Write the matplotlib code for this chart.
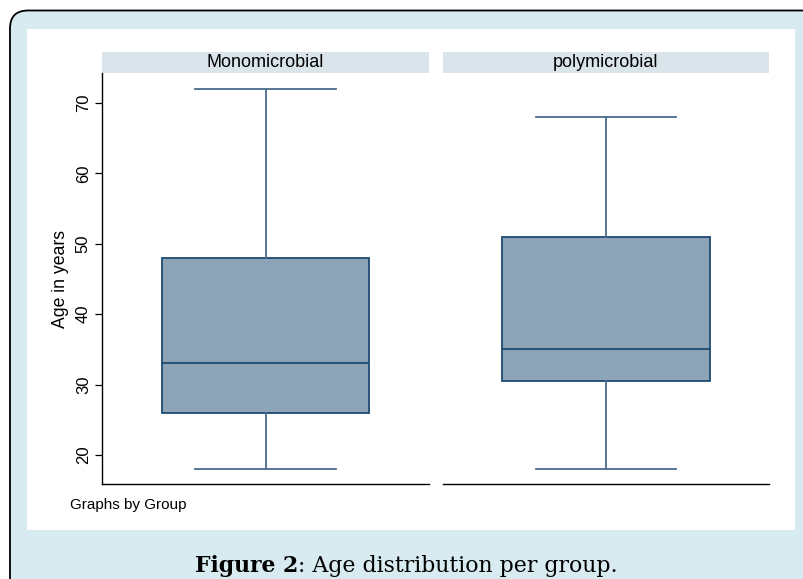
import matplotlib
matplotlib.use("Agg")
import matplotlib.pyplot as plt
from matplotlib.patches import FancyBboxPatch, Rectangle
from matplotlib.transforms import IdentityTransform

# box summary per group
groups = ["Monomicrobial", "polymicrobial"]
whislo = [18, 18]
q1 = [26, 30.5]
med = [33, 35]
q3 = [48, 51]
whishi = [72, 68]
yticks = [20, 30, 40, 50, 60, 70]

W, H = 804, 579
plt.rcParams["font.family"] = ["Liberation Sans", "DejaVu Sans"]

fig = plt.figure(figsize=(W / 100, H / 100), dpi=100)

# outer light-blue card with rounded corner and black border
card = FancyBboxPatch((10, -40), W + 40, H - 10 + 40 - 0.5,
                      boxstyle="round,pad=0,rounding_size=18",
                      transform=IdentityTransform(), facecolor="#d8ebf0",
                      edgecolor="black", linewidth=1.3, zorder=-3)
fig.patches.append(card)
# white graph region
fig.patches.append(Rectangle((27, H - 530), 795 - 27, 530 - 29,
                             transform=IdentityTransform(),
                             facecolor="white", edgecolor="none", zorder=-2))

box_face = "#8ca3b8"
box_edge = "#1f4a70"
whisk_col = "#4a6b8c"

panels = [(102, 429), (443, 769)]
ax_top, ax_bot = 73, 484
for i, (x0, x1) in enumerate(panels):
    ax = fig.add_axes([x0 / W, (H - ax_bot) / H, (x1 - x0) / W,
                       (ax_bot - ax_top) / H])
    ax.patch.set_visible(False)
    stats = [dict(med=med[i], q1=q1[i], q3=q3[i],
                  whislo=whislo[i], whishi=whishi[i], fliers=[])]
    ax.bxp(stats, positions=[0.5], widths=0.636, capwidths=0.43,
           showfliers=False, patch_artist=True,
           boxprops=dict(facecolor=box_face, edgecolor=box_edge, linewidth=1.3),
           medianprops=dict(color=box_edge, linewidth=1.3),
           whiskerprops=dict(color=whisk_col, linewidth=1.3),
           capprops=dict(color=whisk_col, linewidth=1.3))
    ax.set_xlim(0, 1)
    ax.set_ylim(15.88, 74.26)
    ax.set_xticks([])
    for s in ["top", "right"]:
        ax.spines[s].set_visible(False)
    ax.spines["bottom"].set_linewidth(1.0)
    if i == 0:
        ax.set_yticks(yticks)
        ax.set_yticklabels([str(t) for t in yticks], rotation=90,
                           va="center", fontsize=12)
        ax.tick_params(axis="y", length=5, width=0.9, pad=3)
        ax.spines["left"].set_linewidth(1.0)
        ax.set_ylabel("Age in years", fontsize=12.7, labelpad=5)
    else:
        ax.spines["left"].set_visible(False)
        ax.set_yticks([])

    # strip header
    fig.patches.append(Rectangle((x0, H - 73), x1 - x0, 21,
                                 transform=IdentityTransform(),
                                 facecolor="#d9e5eb", edgecolor="none",
                                 zorder=-1))
    fig.text((x0 + x1) / 2 / W, (H - 62.5) / H, groups[i],
             ha="center", va="center", fontsize=13)

fig.text(70 / W, (H - 509) / H, "Graphs by Group", ha="left",
         va="baseline", fontsize=11)

serif = ["DejaVu Serif"]
fig.text(298 / W, 7 / H, "Figure 2", ha="right", va="baseline",
         fontsize=15.8, fontweight="bold", family=serif)
fig.text(298 / W, 7 / H, ": Age distribution per group.", ha="left",
         va="baseline", fontsize=15.8, family=serif)

fig.savefig("out.png", dpi=100)
